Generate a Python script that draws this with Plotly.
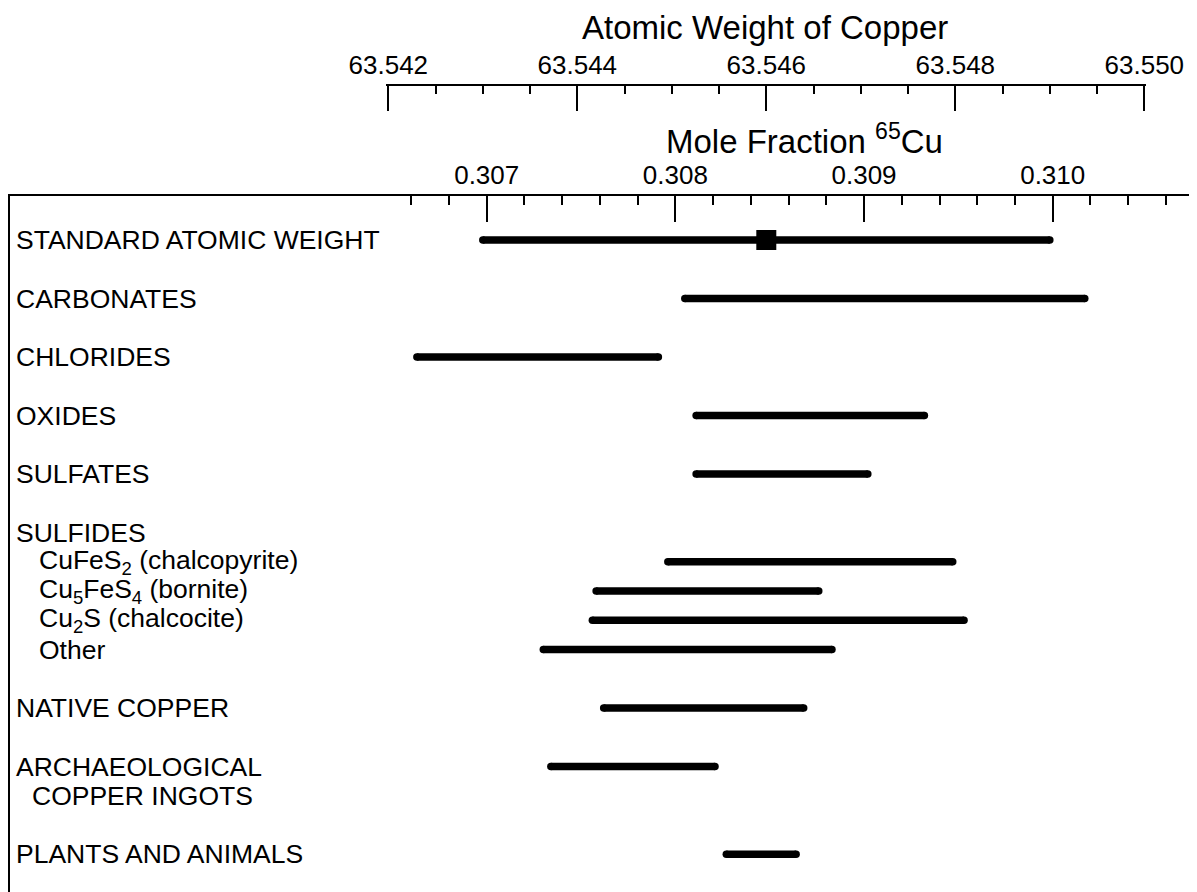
import plotly.graph_objects as go

# ---------------- data ----------------
# Standard atomic weight (atomic-weight scale)
std_weight = 63.546
std_low = 63.543
std_high = 63.549

# Ranges of mole fraction 65Cu for each material group
groups = ["CARBONATES", "CHLORIDES", "OXIDES", "SULFATES",
          "CuFeS<sub>2</sub> (chalcopyrite)", "Cu<sub>5</sub>FeS<sub>4</sub> (bornite)",
          "Cu<sub>2</sub>S (chalcocite)", "Other",
          "NATIVE COPPER", "ARCHAEOLOGICAL", "PLANTS AND ANIMALS"]
frac_low = [0.30805, 0.30663, 0.30811, 0.30811, 0.30796, 0.30758,
            0.30756, 0.30730, 0.30762, 0.30734, 0.30827]
frac_high = [0.31017, 0.30791, 0.30932, 0.30902, 0.30947, 0.30876,
             0.30953, 0.30883, 0.30868, 0.30821, 0.30864]

# Text lines (row index in half-row units) for labels
label_texts = ["STANDARD ATOMIC WEIGHT", "CARBONATES", "CHLORIDES", "OXIDES", "SULFATES",
               "SULFIDES", "CuFeS<sub>2</sub> (chalcopyrite)", "Cu<sub>5</sub>FeS<sub>4</sub> (bornite)",
               "Cu<sub>2</sub>S (chalcocite)", "Other", "NATIVE COPPER", "ARCHAEOLOGICAL",
               "COPPER INGOTS", "PLANTS AND ANIMALS"]
label_rows = [0, 2, 4, 6, 8, 10, 11, 12, 13, 14, 16, 18, 19, 21]
label_indent = [0, 0, 0, 0, 0, 0, 1, 1, 1, 1, 0, 0, 2, 0]

# tick labels
frac_ticks = [0.307, 0.308, 0.309, 0.310]
frac_ticktext = ["0.307", "0.308", "0.309", "0.310"]
frac_minor = [0.3066, 0.3068, 0.3072, 0.3074, 0.3076, 0.3078, 0.3082, 0.3084, 0.3086, 0.3088,
              0.3092, 0.3094, 0.3096, 0.3098, 0.3102, 0.3104, 0.3106]
wt_ticks = [63.542, 63.544, 63.546, 63.548, 63.550]
wt_ticktext = ["63.542", "63.544", "63.546", "63.548", "63.550"]

FONT = "Liberation Sans, Arial, sans-serif"
W, H = 1197, 892
OFF = 8            # page body margin shifts the figure by 8 px
ML = 10 - OFF
PW = W - ML
BAR_W = 7.5

row_of = dict(zip(label_texts, label_rows))

fig = go.Figure()

# standard atomic weight bar (on hidden overlay atomic-weight axis x3)
fig.add_trace(go.Scatter(
    x=[std_low, std_high], y=[row_of["STANDARD ATOMIC WEIGHT"]] * 2,
    xaxis="x3", yaxis="y", mode="lines+markers",
    line=dict(color="black", width=BAR_W),
    marker=dict(symbol="circle", size=BAR_W, color="black", line=dict(width=0)),
    hoverinfo="skip", showlegend=False, cliponaxis=False))
fig.add_trace(go.Scatter(
    x=[std_weight], y=[row_of["STANDARD ATOMIC WEIGHT"]],
    xaxis="x3", yaxis="y", mode="markers",
    marker=dict(symbol="square", size=20, color="black", line=dict(width=0)),
    hoverinfo="skip", showlegend=False, cliponaxis=False))

for name, lo, hi in zip(groups, frac_low, frac_high):
    r = row_of[name]
    fig.add_trace(go.Scatter(
        x=[lo, hi], y=[r, r], xaxis="x", yaxis="y", mode="lines+markers",
        line=dict(color="black", width=BAR_W),
        marker=dict(symbol="circle", size=BAR_W, color="black", line=dict(width=0)),
        hoverinfo="skip", showlegend=False, cliponaxis=False))

# invisible trace so that the atomic-weight axis is drawn
fig.add_trace(go.Scatter(x=[std_weight], y=[0.5], xaxis="x2", yaxis="y2", mode="markers",
                         marker=dict(opacity=0), hoverinfo="skip", showlegend=False))

# labels
indent_px = [4, 27, 20]
for t, r, ind in zip(label_texts, label_rows, label_indent):
    fig.add_annotation(text=t, x=0, xref="paper", y=r, yref="y",
                       xanchor="left", yanchor="middle", xshift=indent_px[ind],
                       showarrow=False, font=dict(family=FONT, size=26.5, color="black"))

# axis titles
fig.add_annotation(text="Atomic Weight of Copper", x=(765 - OFF - ML) / PW, xref="paper",
                   y=(H - (28 - OFF)) / H, yref="paper", xanchor="center", yanchor="middle",
                   showarrow=False, font=dict(family=FONT, size=33, color="black"))
fig.add_annotation(text="Mole Fraction <sup>65</sup>Cu", x=(804 - OFF - ML) / PW, xref="paper",
                   y=(H - (139 - OFF)) / H, yref="paper", xanchor="center", yanchor="middle",
                   showarrow=False, font=dict(family=FONT, size=33, color="black"))

# pixel scales of the two top axes (screen pixels)
px_per_frac = 188670.0
x0_frac = 0.307 - (486.7 - 10) / px_per_frac
x1_frac = x0_frac + PW / px_per_frac
px_per_wt = 94500.0
x0_wt = 63.542 - (388.3 - 10) / px_per_wt
x1_wt = x0_wt + PW / px_per_wt

row_px = 29.25
top_px = 196 - OFF
row0_px = 240 - OFF
y_top = (top_px - row0_px) / row_px
y_bot = (H - row0_px) / row_px

# atomic-weight axis spans 388.3..1144.3 px; pad 2 px so end ticks are kept
pad = 2.0
wt_dom = [(388.3 - pad - 10) / PW, (1144.3 + pad - 10) / PW]
wt_rng = [wt_ticks[0] - pad / px_per_wt, wt_ticks[-1] + pad / px_per_wt]

fig.update_layout(
    width=W, height=H, margin=dict(l=ML, r=0, t=0, b=0, autoexpand=False),
    paper_bgcolor="white", plot_bgcolor="white",
    font=dict(family=FONT, color="black"),
    xaxis=dict(domain=[0, 1], range=[x0_frac, x1_frac], side="top", anchor="y",
               automargin=False,
               showline=True, linecolor="black", linewidth=1.5,
               showgrid=False, zeroline=False,
               ticks="inside", ticklen=26, tickwidth=1.5, tickcolor="black",
               tickmode="array", tickvals=frac_ticks, ticktext=frac_ticktext,
               tickfont=dict(family=FONT, size=26, color="black"),
               minor=dict(tickmode="array", tickvals=frac_minor, ticks="inside",
                          ticklen=9, tickwidth=1.5, tickcolor="black", showgrid=False)),
    xaxis3=dict(overlaying="x", range=[x0_wt, x1_wt], visible=False, anchor="y",
                automargin=False),
    yaxis=dict(domain=[0, (H - top_px) / H], range=[y_bot, y_top], anchor="x",
               automargin=False,
               showline=True, linecolor="black", linewidth=1.5,
               showgrid=False, zeroline=False, showticklabels=False, ticks=""),
    xaxis2=dict(domain=wt_dom, range=wt_rng,
                side="top", anchor="y2", automargin=False,
                showline=True, linecolor="black", linewidth=1.5,
                showgrid=False, zeroline=False,
                ticks="inside", ticklen=25, tickwidth=1.5, tickcolor="black",
                tickmode="array", tickvals=wt_ticks, ticktext=wt_ticktext,
                tickfont=dict(family=FONT, size=26, color="black"),
                minor=dict(dtick=0.0005, tick0=63.542, ticks="inside", ticklen=8,
                           tickwidth=1.5, tickcolor="black", showgrid=False)),
    yaxis2=dict(domain=[0.86, (H - (86 - OFF)) / H], anchor="x2", visible=False, range=[0, 1],
                automargin=False),
)

fig.write_html("out.html")
